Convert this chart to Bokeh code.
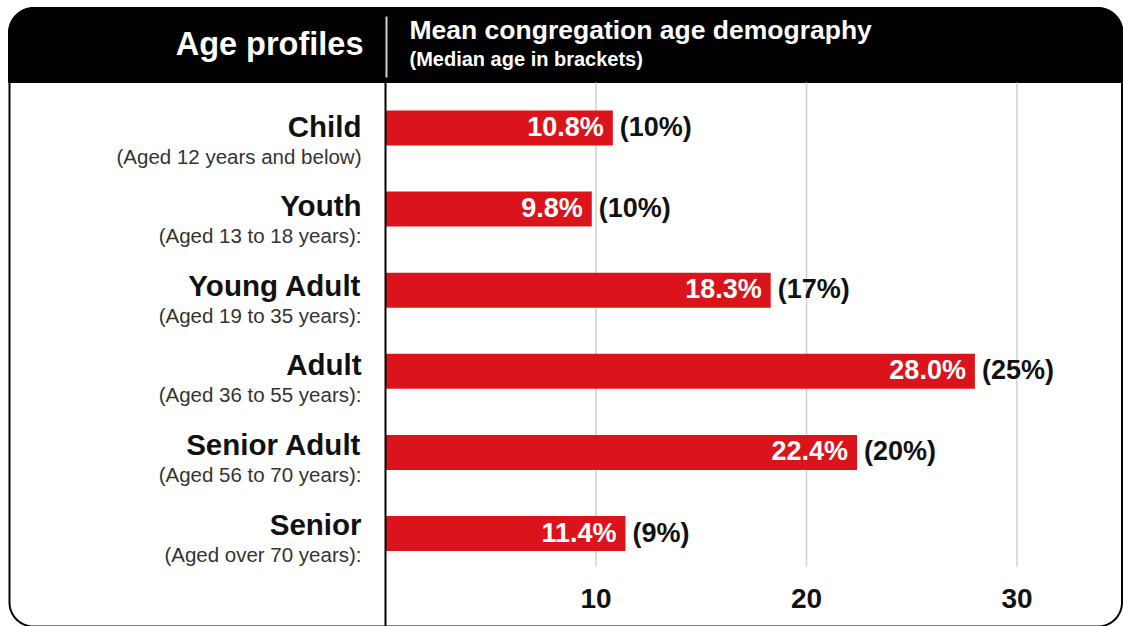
import math
from bokeh.plotting import figure
from bokeh.models import Range1d, ColumnDataSource
from bokeh.core.properties import value
from bokeh.embed import file_html
from bokeh.resources import INLINE

# ---------------- data ----------------
categories = ["Child", "Youth", "Young Adult", "Adult", "Senior Adult", "Senior"]
age_ranges = ["(Aged 12 years and below)", "(Aged 13 to 18 years):",
              "(Aged 19 to 35 years):", "(Aged 36 to 55 years):",
              "(Aged 56 to 70 years):", "(Aged over 70 years):"]
mean_pct = [10.8, 9.8, 18.3, 28.0, 22.4, 11.4]
median_pct = [10, 10, 17, 25, 20, 9]
ticks = [10, 20, 30]
tick_labels = ["10", "20", "30"]
left_title = "Age profiles"
right_title = "Mean congregation age demography"
right_subtitle = "(Median age in brackets)"

# ---------------- layout ----------------
W, H = 1123, 626
FONT = value("Liberation Sans")
RED = "#da141a"

p = figure(width=W, height=H, output_backend="svg", toolbar_location=None,
           x_range=Range1d(0, W), y_range=Range1d(H, 0),
           min_border=0, outline_line_color=None,
           background_fill_color="white", border_fill_color="white")
p.axis.visible = False
p.grid.visible = False

x0_px = 385.0          # value 0 position
px_per_unit = 21.05
p.extra_x_ranges = {"val": Range1d(start=-x0_px / px_per_unit,
                                   end=(W - x0_px) / px_per_unit)}
bar_y0, bar_step = 127.5, 81.1
p.extra_y_ranges = {
    "row": Range1d(start=(H - bar_y0) / bar_step, end=-bar_y0 / bar_step),
}
lab_y0, lab_step = 125.5, 79.6
p.extra_y_ranges["lab"] = Range1d(start=(H - lab_y0) / lab_step, end=-lab_y0 / lab_step)
sub_y0 = lab_y0 + 30.0
p.extra_y_ranges["sub"] = Range1d(start=(H - sub_y0) / lab_step, end=-sub_y0 / lab_step)


def rounded_path(l, t, r, b, rad_top, rad_bot, n=16):
    xs, ys = [], []
    def arc(cx, cy, rad, a0, a1):
        for k in range(n + 1):
            a = a0 + (a1 - a0) * k / n
            xs.append(cx + rad * math.cos(a))
            ys.append(cy - rad * math.sin(a))
    arc(l + rad_top, t + rad_top, rad_top, math.pi, math.pi / 2)
    arc(r - rad_top, t + rad_top, rad_top, math.pi / 2, 0)
    if rad_bot > 0:
        arc(r - rad_bot, b - rad_bot, rad_bot, 0, -math.pi / 2)
        arc(l + rad_bot, b - rad_bot, rad_bot, -math.pi / 2, -math.pi)
    else:
        xs += [r, l]
        ys += [b, b]
    xs.append(xs[0]); ys.append(ys[0])
    return xs, ys

# outer rounded box
bx, by = rounded_path(9, 8, 1121.5, 626, 24, 24)
p.line(bx, by, line_color="black", line_width=2)
# black header
hx, hy = rounded_path(8, 7, 1122.5, 82, 25, 0)
p.patch(hx, hy, fill_color="black", line_color="black", line_width=1)

# header divider
p.segment(x0=[x0_px + 1], x1=[x0_px + 1], y0=[16], y1=[77], line_color="#cfcfcf", line_width=2)

# grid lines
p.segment(x0=ticks, x1=ticks, y0=[82] * len(ticks), y1=[566] * len(ticks),
          line_color="#d0d0d0", line_width=1.5, x_range_name="val")

rows = list(range(len(categories)))
src = ColumnDataSource(dict(row=rows, cat=categories, sub=age_ranges,
                            mean=mean_pct, median=median_pct,
                            mean_txt=[f"{v:.1f}%" for v in mean_pct],
                            med_txt=[f"({v}%)" for v in median_pct]))

p.hbar(y="row", left=0, right="mean", height=35 / bar_step, source=src,
       fill_color=RED, line_color=None, x_range_name="val", y_range_name="row")

# body axis line
p.segment(x0=[x0_px], x1=[x0_px], y0=[82], y1=[626], line_color="black", line_width=2)

# bar value labels
p.text(x="mean", y="row", text="mean_txt", source=src, x_range_name="val",
       y_range_name="row", x_offset=-9, y_offset=-1, text_align="right", text_baseline="middle",
       text_font=FONT, text_font_style="bold", text_font_size="27px", text_color="white")
p.text(x="mean", y="row", text="med_txt", source=src, x_range_name="val",
       y_range_name="row", x_offset=7, y_offset=-1, text_align="left", text_baseline="middle",
       text_font=FONT, text_font_style="bold", text_font_size="27px", text_color="#111111")

# category labels
p.text(x=361, y="row", text="cat", source=src, y_range_name="lab",
       text_align="right", text_baseline="middle",
       text_font=FONT, text_font_style="bold", text_font_size="29.5px", text_color="#111111")
p.text(x=361, y="row", text="sub", source=src, y_range_name="sub",
       text_align="right", text_baseline="middle",
       text_font=FONT, text_font_size="20.5px", text_color="#333333")

# tick labels
p.text(x=ticks, y=[598] * len(ticks), text=tick_labels, x_range_name="val",
       text_align="center", text_baseline="middle",
       text_font=FONT, text_font_style="bold", text_font_size="28px", text_color="#111111")

# header texts
p.text(x=[363], y=[43], text=[left_title], text_align="right", text_baseline="middle",
       text_font=FONT, text_font_style="bold", text_font_size="32.5px", text_color="white")
p.text(x=[409], y=[29], text=[right_title], text_align="left", text_baseline="middle",
       text_font=FONT, text_font_style="bold", text_font_size="26.5px", text_color="white")
p.text(x=[409], y=[58.5], text=[right_subtitle], text_align="left", text_baseline="middle",
       text_font=FONT, text_font_style="bold", text_font_size="20px", text_color="white")

open("out.html", "w").write(file_html(p, INLINE))
